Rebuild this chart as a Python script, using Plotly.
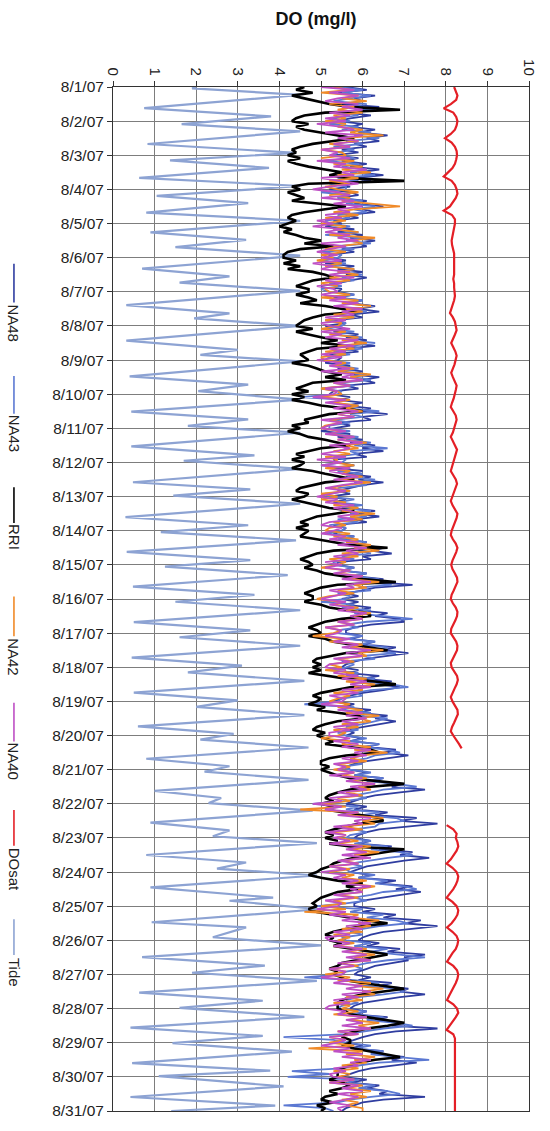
import plotly.graph_objects as go

# ---------------- data ----------------
date_labels = ["8/1/07", "8/2/07", "8/3/07", "8/4/07", "8/5/07", "8/6/07", "8/7/07", "8/8/07",
               "8/9/07", "8/10/07", "8/11/07", "8/12/07", "8/13/07", "8/14/07", "8/15/07", "8/16/07",
               "8/17/07", "8/18/07", "8/19/07", "8/20/07", "8/21/07", "8/22/07", "8/23/07", "8/24/07",
               "8/25/07", "8/26/07", "8/27/07", "8/28/07", "8/29/07", "8/30/07", "8/31/07"]
do_ticks = [0, 1, 2, 3, 4, 5, 6, 7, 8, 9, 10]

# 2-hourly DO readings (mg/l), one row per day 8/1 ... 8/30, plus the final reading on 8/31
na48 = [
 5.6, 6.1, 5.4, 6.3, 5.8, 6.0, 5.5, 6.4, 5.9, 5.6, 6.2, 5.7,
 5.4, 6.0, 5.7, 6.3, 5.9, 6.6, 6.1, 6.4, 5.8, 6.1, 5.5, 5.9,
 5.3, 5.9, 5.5, 6.1, 5.7, 6.4, 5.9, 6.5, 5.8, 6.2, 5.4, 5.7,
 5.2, 5.7, 5.9, 5.4, 6.1, 5.8, 6.5, 6.0, 6.3, 5.6, 5.9, 5.3,
 5.5, 5.1, 5.8, 5.4, 6.0, 5.7, 6.3, 5.9, 6.1, 5.5, 5.8, 5.2,
 5.2, 5.6, 5.1, 5.8, 5.4, 6.0, 5.6, 6.1, 5.7, 5.4, 5.0, 5.5,
 5.4, 5.8, 5.3, 6.0, 5.7, 6.3, 5.9, 6.4, 5.7, 6.0, 5.3, 5.6,
 5.1, 5.6, 5.3, 5.9, 5.6, 6.1, 5.8, 6.3, 5.6, 5.9, 5.2, 5.5,
 5.4, 5.1, 5.7, 5.4, 6.0, 5.7, 6.4, 6.0, 6.3, 5.6, 5.9, 5.3,
 5.2, 5.7, 5.4, 6.0, 5.6, 6.2, 5.9, 6.6, 6.0, 6.2, 5.4, 5.7,
 5.3, 5.0, 5.7, 5.4, 6.0, 5.7, 6.3, 6.0, 6.5, 5.8, 6.1, 5.3,
 5.4, 5.8, 5.3, 6.0, 5.6, 6.2, 5.9, 6.5, 6.0, 5.7, 5.4, 5.7,
 5.2, 5.6, 5.3, 5.9, 5.6, 6.3, 5.9, 6.4, 5.8, 6.1, 5.3, 5.6,
 5.5, 5.3, 5.8, 5.5, 6.1, 5.9, 6.5, 6.2, 6.7, 6.0, 6.2, 5.4,
 5.4, 5.8, 5.5, 6.1, 5.8, 6.5, 6.2, 7.2, 6.3, 6.0, 5.6, 5.9,
 5.5, 5.9, 5.6, 6.2, 5.9, 6.6, 6.3, 6.9, 7.0, 6.2, 5.8, 5.6,
 5.6, 6.0, 5.7, 6.3, 6.0, 6.8, 6.5, 7.1, 6.6, 6.1, 5.8, 5.6,
 5.5, 5.9, 5.6, 6.4, 6.0, 6.7, 6.4, 6.9, 6.5, 6.0, 5.7, 5.5,
 5.3, 5.8, 5.5, 6.2, 5.9, 6.6, 6.3, 6.8, 6.4, 5.9, 5.6, 5.8,
 5.6, 6.0, 5.7, 6.4, 6.1, 6.8, 6.5, 7.1, 6.6, 6.1, 5.8, 5.6,
 5.7, 6.1, 5.8, 6.5, 6.2, 7.0, 6.7, 7.5, 6.9, 6.3, 6.0, 5.8,
 5.6, 6.1, 5.8, 6.6, 6.3, 7.3, 6.9, 7.8, 7.0, 6.4, 6.1, 5.9,
 5.8, 6.2, 5.9, 6.7, 6.4, 7.2, 6.9, 7.6, 7.0, 6.5, 6.1, 5.9,
 5.7, 6.2, 5.9, 6.8, 6.4, 7.2, 6.8, 7.4, 6.9, 6.4, 6.0, 5.8,
 5.8, 6.3, 6.0, 6.8, 6.5, 7.4, 7.0, 7.8, 7.1, 6.5, 6.2, 6.0,
 5.9, 6.4, 6.1, 6.9, 6.6, 7.5, 7.0, 7.1, 6.7, 6.3, 6.1, 5.9,
 5.8, 6.2, 5.9, 6.7, 6.4, 7.1, 6.9, 7.5, 6.9, 6.4, 6.0, 5.8,
 5.7, 6.1, 5.8, 6.6, 6.3, 6.9, 6.7, 7.8, 6.8, 6.3, 6.0, 5.8,
 5.6, 6.0, 5.7, 6.5, 6.2, 7.0, 6.7, 7.3, 6.7, 6.2, 5.9, 5.7,
 5.5, 6.1, 5.7, 6.4, 6.1, 6.6, 6.4, 7.5, 6.5, 6.0, 5.8, 5.6,
 5.5]

na43 = [
 5.4, 6.0, 5.5, 6.2, 5.7, 5.3, 6.1, 5.6, 6.3, 5.5, 5.9, 5.2,
 5.7, 5.2, 5.9, 5.5, 6.2, 5.8, 6.4, 5.6, 6.0, 5.3, 5.8, 5.4,
 5.3, 5.8, 5.1, 5.9, 5.5, 6.1, 5.7, 6.3, 5.4, 5.9, 5.2, 5.6,
 5.6, 5.0, 5.7, 5.4, 6.0, 5.6, 6.3, 5.8, 6.1, 5.4, 5.7, 5.1,
 5.2, 5.7, 5.3, 5.9, 5.1, 6.0, 5.6, 6.2, 5.3, 5.8, 5.0, 5.5,
 5.4, 5.0, 5.6, 5.2, 5.8, 5.4, 6.0, 5.5, 5.8, 5.2, 5.5, 5.0,
 5.2, 5.8, 5.4, 6.0, 5.6, 6.2, 5.7, 6.1, 5.4, 5.8, 5.1, 5.6,
 5.5, 5.1, 5.8, 5.3, 6.0, 5.6, 6.3, 5.7, 6.0, 5.3, 5.7, 5.2,
 5.1, 5.7, 5.4, 5.9, 5.5, 6.1, 5.8, 6.2, 5.4, 5.8, 5.0, 5.5,
 5.4, 4.5, 5.6, 5.2, 5.9, 5.6, 6.4, 5.7, 6.0, 5.3, 5.7, 5.2,
 5.2, 5.7, 5.3, 5.9, 5.6, 6.2, 5.8, 6.6, 5.7, 5.9, 5.3, 5.6,
 5.5, 5.0, 5.7, 5.4, 6.0, 5.6, 6.3, 5.8, 6.1, 5.4, 5.7, 5.1,
 5.2, 5.8, 5.4, 6.0, 5.5, 6.2, 5.7, 6.1, 5.4, 5.9, 5.2, 5.6,
 5.5, 5.1, 5.8, 5.4, 6.1, 5.7, 6.4, 5.9, 6.2, 5.5, 5.8, 5.3,
 5.3, 5.8, 5.5, 6.1, 5.7, 6.4, 6.0, 6.7, 5.9, 6.2, 5.4, 5.7,
 5.6, 5.0, 5.8, 5.5, 6.2, 5.8, 6.5, 7.2, 6.1, 5.6, 5.9, 5.4,
 5.4, 6.0, 5.6, 6.3, 5.9, 6.6, 6.2, 6.8, 6.0, 6.3, 5.5, 5.8,
 5.6, 5.2, 5.9, 5.6, 6.3, 6.0, 6.7, 7.1, 6.2, 5.8, 6.0, 5.5,
 5.4, 4.6, 5.8, 5.5, 6.2, 5.9, 6.6, 6.3, 6.0, 5.6, 5.9, 5.4,
 5.6, 6.1, 5.7, 6.4, 6.0, 6.6, 6.9, 6.3, 6.1, 5.7, 6.0, 5.5,
 5.7, 6.2, 5.8, 6.5, 6.1, 6.8, 7.3, 6.5, 6.2, 5.8, 6.1, 5.6,
 4.8, 5.9, 5.6, 6.4, 6.0, 6.8, 7.0, 6.4, 6.3, 5.8, 6.1, 5.7,
 5.6, 6.2, 5.8, 6.6, 6.2, 6.9, 7.2, 6.6, 6.1, 5.7, 6.0, 5.6,
 5.7, 6.3, 5.9, 6.6, 6.3, 7.0, 7.3, 6.5, 6.2, 5.8, 6.1, 5.6,
 4.9, 6.0, 5.7, 6.5, 6.1, 6.8, 7.1, 6.4, 6.0, 5.7, 6.0, 5.5,
 5.6, 6.2, 5.8, 6.6, 6.2, 6.9, 7.5, 6.6, 6.1, 5.8, 6.0, 5.6,
 5.5, 4.6, 5.8, 6.4, 6.0, 6.8, 7.0, 6.5, 5.9, 5.6, 5.9, 5.5,
 5.4, 6.1, 5.7, 6.5, 6.1, 6.8, 7.2, 6.5, 6.0, 5.6, 4.1, 5.3,
 5.6, 6.2, 5.8, 6.5, 6.2, 6.8, 7.6, 6.4, 5.9, 5.5, 4.3, 5.2,
 4.2, 5.9, 5.6, 6.3, 5.9, 6.6, 6.9, 6.2, 5.7, 5.4, 4.1, 5.1,
 5.3]

rri = [
 4.6, 4.4, 4.8, 4.3, 4.6, 4.9, 5.2, 5.7, 6.9, 5.1, 4.6, 4.4,
 4.3, 4.7, 4.4, 4.6, 5.0, 5.4, 5.8, 5.3, 4.8, 4.5, 4.3, 4.4,
 4.2, 4.5, 4.2, 4.4, 4.7, 5.1, 5.5, 5.2, 5.6, 7.0, 4.7, 4.3,
 4.5, 4.2, 4.4, 4.6, 4.3, 4.9, 5.6, 5.1, 4.6, 4.3, 4.2, 4.4,
 4.2, 4.0, 4.3, 4.1, 4.4, 4.6, 5.0, 4.6, 5.3, 4.5, 4.2, 4.1,
 4.1, 4.4, 4.1, 4.5, 4.2, 4.8, 5.1, 5.3, 4.8, 4.6, 4.4, 4.7,
 4.7, 4.4, 4.7, 4.9, 4.5, 5.1, 5.5, 5.9, 5.1, 4.8, 4.6, 4.5,
 4.4, 4.8, 4.4, 4.7, 5.0, 5.4, 5.0, 5.7, 4.9, 4.7, 4.5, 4.6,
 4.7, 4.3, 4.7, 4.9, 5.1, 5.5, 5.1, 5.6, 4.8, 4.6, 4.4, 4.7,
 4.3, 4.6, 4.3, 4.7, 5.0, 5.6, 6.0, 5.2, 4.9, 4.6, 4.7, 4.3,
 4.5, 4.2, 4.5, 4.7, 5.1, 5.4, 5.7, 5.0, 4.7, 4.4, 4.6, 4.3,
 4.6, 4.5, 4.3, 4.8, 5.1, 5.5, 5.8, 5.1, 4.8, 4.5, 4.4, 4.7,
 4.6, 4.3, 4.6, 4.9, 5.2, 5.8, 5.3, 4.9, 4.7, 4.5, 4.7, 4.4,
 4.7, 4.6, 4.5, 4.9, 5.3, 5.7, 6.6, 5.3, 4.9, 4.7, 4.5, 4.7,
 4.8, 4.6, 4.9, 5.1, 5.5, 6.0, 6.8, 5.4, 5.0, 4.8, 4.6, 4.8,
 4.8, 4.6, 5.0, 5.2, 5.6, 6.1, 6.2, 5.5, 5.1, 4.9, 4.7, 4.9,
 5.0, 4.7, 5.1, 5.3, 5.7, 6.2, 6.6, 5.6, 5.2, 4.9, 4.8, 5.0,
 4.8, 5.0, 4.7, 5.2, 5.6, 6.3, 6.8, 5.7, 5.3, 5.0, 4.8, 5.0,
 4.9, 4.7, 5.1, 4.9, 5.4, 5.9, 6.0, 5.4, 5.1, 4.9, 4.8, 5.1,
 4.9, 5.1, 5.3, 5.1, 5.6, 6.2, 6.4, 5.6, 5.2, 5.0, 5.0, 5.2,
 5.0, 5.2, 5.4, 5.7, 6.3, 7.0, 6.2, 5.7, 5.4, 5.2, 5.1, 5.3,
 5.0, 5.3, 5.1, 5.5, 5.9, 6.4, 6.5, 5.9, 5.6, 5.3, 5.1, 5.3,
 5.1, 5.4, 5.2, 5.7, 7.0, 6.5, 6.1, 5.8, 5.5, 5.3, 5.2, 5.0,
 4.9, 4.7, 5.0, 5.4, 6.0, 5.6, 5.9, 5.4, 5.2, 5.0, 4.9, 4.8,
 4.9, 4.7, 4.9, 5.3, 5.6, 6.1, 6.6, 6.0, 5.6, 5.3, 5.1, 5.3,
 5.2, 5.5, 5.3, 5.8, 6.2, 6.6, 6.2, 5.8, 5.5, 5.4, 5.2, 5.4,
 5.3, 5.5, 5.6, 6.0, 6.5, 7.0, 6.5, 6.0, 5.7, 5.5, 5.4, 5.4,
 5.4, 5.6, 5.7, 6.1, 6.6, 7.0, 6.6, 6.1, 5.8, 5.6, 5.5, 5.7,
 5.7, 5.5, 5.8, 6.2, 6.6, 6.9, 6.3, 5.9, 5.7, 5.5, 5.4, 5.4,
 5.4, 5.2, 5.5, 5.7, 5.5, 5.2, 5.4, 5.1, 5.0, 5.3, 4.9, 5.1,
 5.0]

na42 = [
 5.3, 5.7, 5.0, 5.9, 5.5, 6.1, 5.2, 5.8, 5.4, 6.0, 5.3, 5.6,
 5.1, 5.6, 5.4, 6.0, 5.7, 6.5, 5.5, 5.9, 5.2, 5.7, 5.0, 5.5,
 5.6, 5.0, 5.8, 5.3, 6.0, 5.5, 6.2, 5.4, 5.9, 5.2, 5.7, 5.1,
 5.4, 5.9, 5.2, 5.7, 5.5, 6.2, 6.9, 5.8, 5.3, 5.9, 5.1, 5.6,
 5.0, 5.6, 5.3, 5.9, 5.2, 6.3, 5.7, 6.0, 5.4, 5.1, 5.6, 5.0,
 5.3, 4.9, 5.5, 5.1, 5.8, 5.4, 5.9, 5.2, 5.7, 5.0, 5.4, 5.1,
 5.2, 5.7, 5.0, 5.9, 5.5, 6.2, 5.6, 6.0, 5.3, 5.8, 5.1, 5.5,
 5.4, 5.0, 5.6, 5.2, 5.9, 5.5, 6.1, 5.4, 5.8, 5.1, 5.6, 5.0,
 5.1, 5.6, 5.3, 5.8, 5.4, 6.2, 5.7, 6.0, 5.3, 5.7, 5.0, 5.4,
 5.5, 5.0, 5.7, 5.3, 5.9, 5.6, 6.0, 5.4, 5.8, 5.2, 5.5, 5.1,
 5.0, 5.5, 5.2, 5.8, 5.4, 6.1, 5.6, 5.9, 5.3, 5.7, 5.1, 5.4,
 5.3, 5.8, 5.1, 5.7, 5.5, 6.0, 5.4, 6.2, 5.6, 5.2, 5.7, 5.0,
 5.4, 5.0, 5.6, 5.3, 5.9, 5.5, 6.3, 5.7, 6.0, 5.3, 5.6, 5.2,
 5.1, 5.7, 5.3, 5.9, 5.6, 6.2, 5.8, 6.4, 5.5, 5.9, 5.2, 5.6,
 5.4, 5.0, 5.7, 5.4, 6.0, 5.7, 6.4, 5.8, 6.1, 5.4, 5.8, 5.2,
 4.9, 5.5, 5.3, 5.9, 5.6, 6.2, 5.8, 6.0, 5.4, 5.8, 5.1, 5.5,
 5.3, 4.8, 5.6, 5.2, 6.0, 5.7, 6.5, 5.9, 6.1, 5.4, 5.8, 5.2,
 5.5, 5.1, 5.8, 5.4, 6.1, 5.6, 6.3, 5.8, 6.0, 5.3, 5.7, 5.4,
 5.2, 5.7, 5.4, 6.0, 5.6, 6.4, 5.9, 6.2, 5.5, 5.9, 5.3, 5.6,
 5.4, 5.0, 5.7, 5.5, 6.2, 5.8, 6.6, 6.0, 5.7, 6.1, 5.4, 5.7,
 5.3, 5.8, 5.5, 6.1, 5.7, 6.3, 5.9, 6.2, 5.6, 6.0, 5.4, 5.7,
 5.0, 5.6, 4.5, 5.9, 5.6, 6.5, 6.0, 6.3, 5.5, 6.0, 5.3, 5.6,
 5.4, 5.9, 5.3, 6.2, 5.7, 6.4, 5.8, 6.1, 5.5, 5.9, 5.2, 5.7,
 5.2, 5.8, 5.5, 6.1, 5.6, 6.3, 5.9, 6.0, 5.4, 5.9, 5.3, 5.6,
 5.0, 5.6, 4.6, 5.9, 5.7, 6.4, 5.9, 6.2, 5.5, 6.0, 5.3, 5.7,
 5.4, 5.8, 5.3, 6.1, 5.6, 6.3, 5.8, 6.2, 5.5, 5.9, 5.2, 5.6,
 5.1, 5.7, 5.4, 6.2, 5.8, 6.5, 6.0, 6.3, 5.6, 6.0, 5.3, 5.7,
 5.5, 5.9, 5.3, 6.1, 5.7, 6.4, 5.9, 6.2, 5.4, 5.9, 5.2, 5.6,
 5.2, 5.8, 4.7, 6.0, 5.6, 6.3, 5.8, 6.1, 5.5, 5.9, 5.3, 5.7,
 5.4, 5.8, 5.2, 6.0, 5.6, 6.2, 5.7, 6.1, 5.5, 5.9, 5.6, 6.0,
 6.0]

na40 = [
 5.0, 5.8, 5.2, 5.9, 5.4, 5.1, 5.9, 5.5, 6.0, 5.2, 5.7, 5.1,
 5.6, 4.9, 5.5, 5.8, 5.1, 6.0, 5.4, 5.9, 5.3, 5.7, 5.0, 5.4,
 5.2, 5.7, 4.9, 5.6, 5.3, 6.1, 5.5, 5.8, 5.0, 5.5, 5.9, 5.2,
 4.8, 5.4, 5.7, 5.0, 5.8, 5.3, 6.0, 5.4, 5.7, 5.1, 5.5, 4.9,
 5.3, 4.8, 5.5, 5.1, 5.7, 5.4, 5.9, 5.0, 5.6, 5.2, 4.9, 5.4,
 5.0, 5.5, 4.8, 5.3, 5.0, 5.7, 5.2, 5.8, 5.1, 5.5, 4.9, 5.3,
 5.4, 5.0, 5.6, 5.2, 5.9, 5.3, 6.0, 5.5, 5.8, 5.1, 5.6, 5.0,
 5.2, 5.7, 5.0, 5.5, 5.1, 5.9, 5.4, 5.8, 5.2, 5.6, 5.0, 5.5,
 4.9, 5.5, 5.2, 5.7, 5.0, 5.8, 5.5, 6.0, 5.3, 5.7, 5.1, 5.4,
 5.3, 4.8, 5.6, 5.1, 5.7, 5.3, 5.9, 5.4, 5.8, 5.0, 5.5, 5.2,
 5.0, 5.6, 5.1, 5.8, 5.4, 6.0, 5.2, 5.7, 5.4, 5.0, 5.6, 4.9,
 5.5, 5.0, 5.7, 5.2, 5.6, 5.9, 5.3, 6.0, 5.5, 5.1, 5.6, 5.2,
 4.9, 5.4, 5.1, 5.8, 5.3, 5.7, 5.9, 5.4, 5.8, 5.2, 5.0, 5.5,
 5.3, 5.0, 5.6, 5.2, 5.9, 5.4, 6.1, 5.6, 5.9, 5.3, 5.7, 5.1,
 5.5, 5.1, 5.7, 5.3, 6.0, 5.5, 6.2, 5.6, 5.8, 5.2, 5.6, 5.3,
 5.0, 5.6, 5.2, 5.8, 5.4, 6.1, 5.7, 6.0, 5.4, 5.8, 5.1, 5.5,
 5.4, 5.1, 5.7, 5.3, 5.9, 5.5, 6.2, 5.6, 6.0, 5.3, 5.7, 5.2,
 5.1, 5.6, 5.3, 5.9, 5.5, 6.1, 5.7, 6.2, 5.5, 5.9, 5.2, 5.6,
 5.5, 5.0, 5.7, 5.4, 6.0, 5.6, 6.1, 5.5, 5.9, 5.3, 5.7, 5.2,
 5.2, 5.7, 5.3, 5.9, 5.5, 6.2, 5.8, 6.1, 5.5, 5.9, 5.3, 5.6,
 5.4, 5.8, 5.2, 6.0, 5.6, 6.3, 5.7, 6.1, 5.4, 5.9, 5.2, 5.5,
 4.8, 5.5, 5.1, 5.9, 5.4, 6.2, 5.8, 6.0, 5.3, 5.8, 5.1, 5.6,
 5.3, 5.7, 5.2, 6.0, 5.6, 6.1, 5.5, 6.2, 5.4, 5.9, 5.2, 5.6,
 5.0, 5.6, 5.3, 5.9, 5.5, 6.2, 5.7, 6.0, 5.3, 5.8, 5.1, 5.5,
 5.4, 4.9, 5.6, 5.2, 5.9, 5.5, 6.2, 5.6, 6.0, 5.3, 5.7, 5.1,
 5.2, 5.7, 5.3, 6.0, 5.5, 6.1, 5.6, 6.2, 5.4, 5.8, 5.2, 5.6,
 5.5, 5.0, 5.7, 5.3, 6.0, 5.6, 6.2, 5.5, 5.9, 5.3, 5.7, 5.2,
 5.1, 5.6, 5.4, 6.1, 5.6, 6.0, 5.5, 6.2, 5.4, 5.9, 5.2, 5.6,
 5.4, 5.0, 5.7, 5.3, 6.0, 5.5, 6.2, 5.7, 5.9, 5.3, 5.6, 5.2,
 5.3, 5.8, 5.2, 5.9, 5.5, 6.0, 5.4, 5.9, 5.6, 5.2, 5.7, 5.4,
 5.5]

# 3-hourly saturation DO, gap while the sonde was out
dosat = [
 8.20, 8.24, 8.28, 8.25, 8.12, 7.95, 8.18, 8.25,
 8.28, 8.26, 8.22, 8.12, 7.98, 8.14, 8.22, 8.26,
 8.27, 8.25, 8.22, 8.16, 8.06, 7.95, 8.14, 8.22,
 8.26, 8.28, 8.24, 8.18, 8.10, 7.95, 8.15, 8.22,
 8.22, 8.20, 8.18, 8.16, 8.14, 8.15, 8.18, 8.20,
 8.20, 8.20, 8.19, 8.20, 8.20, 8.18, 8.20, 8.20,
 8.21, 8.22, 8.20, 8.17, 8.14, 8.10, 8.17, 8.22,
 8.24, 8.26, 8.22, 8.17, 8.13, 8.18, 8.23, 8.26,
 8.24, 8.21, 8.17, 8.13, 8.17, 8.22, 8.26, 8.24,
 8.22, 8.19, 8.15, 8.12, 8.18, 8.24, 8.26, 8.23,
 8.21, 8.17, 8.12, 8.17, 8.23, 8.27, 8.24, 8.21,
 8.18, 8.14, 8.12, 8.18, 8.24, 8.27, 8.23, 8.20,
 8.16, 8.12, 8.16, 8.23, 8.28, 8.26, 8.22, 8.18,
 8.14, 8.12, 8.17, 8.24, 8.28, 8.25, 8.20, 8.16,
 8.13, 8.16, 8.22, 8.27, 8.28, 8.24, 8.19, 8.14,
 8.12, 8.17, 8.24, 8.28, 8.27, 8.23, 8.18, 8.13,
 8.12, 8.18, 8.25, 8.28, 8.27, 8.22, 8.17, 8.12,
 8.14, 8.21, 8.27, 8.29, 8.26, 8.21, 8.16, 8.12,
 8.16, 8.23, 8.28, 8.29, 8.25, 8.20, 8.15, 8.12,
 8.18, 8.26, 8.32, 8.38, None, None, None, None,
 None, None, None, None, None, None, None, None,
 None, None, None, None, None, 8.02, 8.18, 8.26,
 8.24, 8.28, 8.30, 8.26, 8.20, 8.12, 8.02, 8.16,
 8.26, 8.30, 8.28, 8.24, 8.18, 8.10, 8.02, 8.16,
 8.26, 8.30, 8.28, 8.22, 8.14, 8.03, 8.16, 8.26,
 8.30, 8.28, 8.24, 8.16, 8.10, 8.03, 8.18, 8.27,
 8.30, 8.28, 8.24, 8.18, 8.12, 8.08, 8.03, 8.18,
 8.27, 8.30, 8.24, 8.16, 8.08, 8.02, 8.18, 8.22,
 8.22, 8.22, 8.23, 8.22, 8.22, 8.22, 8.23, 8.22,
 8.22, 8.22, 8.22, 8.22, 8.22, 8.22, 8.22, 8.22,
 8.22]

# tide turning points (days since 8/1 00:00, level)
tide_day = [0.00, 0.04, 0.23, 0.62, 0.86, 1.09, 1.30, 1.67, 1.93, 2.15, 2.37, 2.66, 2.90, 3.19,
            3.40, 3.68, 3.92, 4.26, 4.48, 4.69, 4.94, 5.32, 5.55, 5.73, 5.97, 6.39, 6.63, 6.78,
            7.00, 7.43, 7.70, 7.85, 8.04, 8.48, 8.72, 8.91, 9.16, 9.51, 9.74, 9.93, 10.13, 10.53,
            10.79, 10.95, 11.19, 11.58, 11.79, 11.97, 12.21, 12.60, 12.84, 13.04, 13.28, 13.62,
            13.86, 14.05, 14.30, 14.64, 14.88, 15.08, 15.33, 15.68, 15.92, 16.12, 16.37, 16.72,
            16.95, 17.15, 17.40, 17.74, 17.97, 18.16, 18.40, 18.73, 18.95, 19.12, 19.35, 19.68,
            19.90, 20.06, 20.30, 20.62, 20.83, 20.98, 21.20, 21.55, 21.78, 21.95, 22.15, 22.50,
            22.72, 22.90, 23.10, 23.45, 23.75, 23.84, 24.09, 24.47, 24.62, 24.91, 25.15, 25.49,
            25.74, 25.95, 26.19, 26.53, 26.77, 26.98, 27.24, 27.56, 27.80, 28.01, 28.26, 28.60,
            28.82, 28.98, 29.28, 29.59, 29.84, 30.00]
tide_val = [2.0, 1.9, 4.5, 0.75, 3.8, 1.65, 4.5, 0.83, 4.4, 1.37, 3.75, 0.63, 4.5, 1.05,
            3.25, 0.8, 4.5, 0.9, 3.2, 1.5, 4.5, 0.7, 2.8, 1.6, 4.5, 0.32, 2.8, 1.95,
            4.5, 0.32, 3.0, 2.1, 4.5, 0.4, 3.25, 2.05, 4.5, 0.44, 3.25, 1.8, 4.5, 0.44,
            3.4, 1.7, 4.5, 0.48, 3.3, 1.45, 4.5, 0.3, 3.25, 1.15, 4.4, 0.33,
            3.3, 1.25, 4.2, 0.48, 3.4, 1.5, 4.5, 0.5, 3.3, 1.6, 4.5, 0.45,
            3.1, 1.8, 4.6, 0.5, 3.0, 2.0, 4.6, 0.6, 2.9, 2.1, 4.7, 0.8,
            2.8, 2.2, 4.7, 1.0, 2.6, 2.3, 4.8, 0.9, 2.8, 2.4, 4.9, 0.8,
            3.2, 2.5, 4.9, 0.9, 3.85, 2.8, 4.95, 0.93, 3.2, 2.4, 5.0, 0.7,
            3.65, 1.9, 4.9, 0.63, 3.6, 1.6, 4.6, 0.42, 3.6, 1.43, 4.3, 0.46,
            3.78, 1.1, 4.1, 0.42, 3.9, 1.4]

names = ["NA48", "NA43", "RRI", "NA42", "NA40", "DOsat", "Tide"]
colors = {"NA48": "#2F3DA0", "NA43": "#5B78D2", "RRI": "#000000", "NA42": "#F08A28",
          "NA40": "#BE4FC4", "DOsat": "#E41F26", "Tide": "#8DA3D3"}
widths = {"NA48": 1.8, "NA43": 1.8, "RRI": 2.6, "NA42": 1.8, "NA40": 1.8, "DOsat": 2.2, "Tide": 2.2}

# ---------------- figure ----------------
W, H = 550, 1131
L, R, T, B = 113, 17, 87, 13
PW, PH = W - L - R, H - T - B


def px(xp):
    return (xp - L) / PW


def py(yp):
    return 1 - (yp - T) / PH


fig = go.Figure()

fig.add_trace(go.Scatter(x=tide_val, y=tide_day, mode="lines", name="Tide",
                         line=dict(color=colors["Tide"], width=widths["Tide"]), showlegend=False))

series = [("NA48", na48, 2), ("NA43", na43, 2), ("RRI", rri, 2), ("NA42", na42, 2),
          ("NA40", na40, 2), ("DOsat", dosat, 3)]
for nm, vals, step_h in series:
    days = [i * step_h / 24 for i in range(len(vals))]
    fig.add_trace(go.Scatter(x=vals, y=days, mode="lines", name=nm,
                             line=dict(color=colors[nm], width=widths[nm]),
                             connectgaps=False, showlegend=False))

font_family = "Liberation Sans, Arial, sans-serif"

# custom rotated legend on the left
legend_pos = {  # line top, line bottom, text centre (pixels)
    "NA48": (265, 304, 325), "NA43": (378, 416, 436), "RRI": (490, 526, 540),
    "NA42": (600, 640, 661), "NA40": (707, 746, 766), "DOsat": (815, 851, 875),
    "Tide": (925, 961, 979)}
shapes = []
annotations = []
lx = 13
for nm in names:
    t0, t1, tc = legend_pos[nm]
    shapes.append(dict(type="line", xref="paper", yref="paper", x0=px(lx), x1=px(lx),
                       y0=py(t0), y1=py(t1), line=dict(color=colors[nm], width=1.6)))
    annotations.append(dict(text=nm, xref="paper", yref="paper", x=px(lx), y=py(tc),
                            textangle=90, showarrow=False, xanchor="center", yanchor="middle",
                            font=dict(size=15, color="#222", family=font_family)))

fig.update_layout(
    width=W, height=H,
    margin=dict(l=L, r=R, t=T, b=B, pad=0),
    paper_bgcolor="white", plot_bgcolor="white",
    title=dict(text="<b>DO (mg/l)</b>", x=316 / W, y=1 - 19 / H, xanchor="center", yanchor="middle",
               font=dict(size=18, color="#111", family=font_family)),
    shapes=shapes, annotations=annotations,
    xaxis=dict(side="top", range=[0, 10], tickvals=do_ticks, ticktext=[str(v) for v in do_ticks],
               tickangle=90, ticks="outside", ticklen=5, tickcolor="#333",
               showgrid=True, gridcolor="#7d7d7d", gridwidth=1, zeroline=False,
               showline=True, linecolor="#333", linewidth=1, mirror=True,
               tickfont=dict(size=15, color="#222", family=font_family)),
    yaxis=dict(range=[30, 0], tickvals=list(range(len(date_labels))), ticktext=date_labels,
               ticks="outside", ticklen=5, tickcolor="#333",
               showgrid=True, gridcolor="#7d7d7d", gridwidth=1, zeroline=False,
               showline=True, linecolor="#333", linewidth=1, mirror=True,
               tickfont=dict(size=15.5, color="#222", family=font_family)),
)

fig.write_html("out.html")
